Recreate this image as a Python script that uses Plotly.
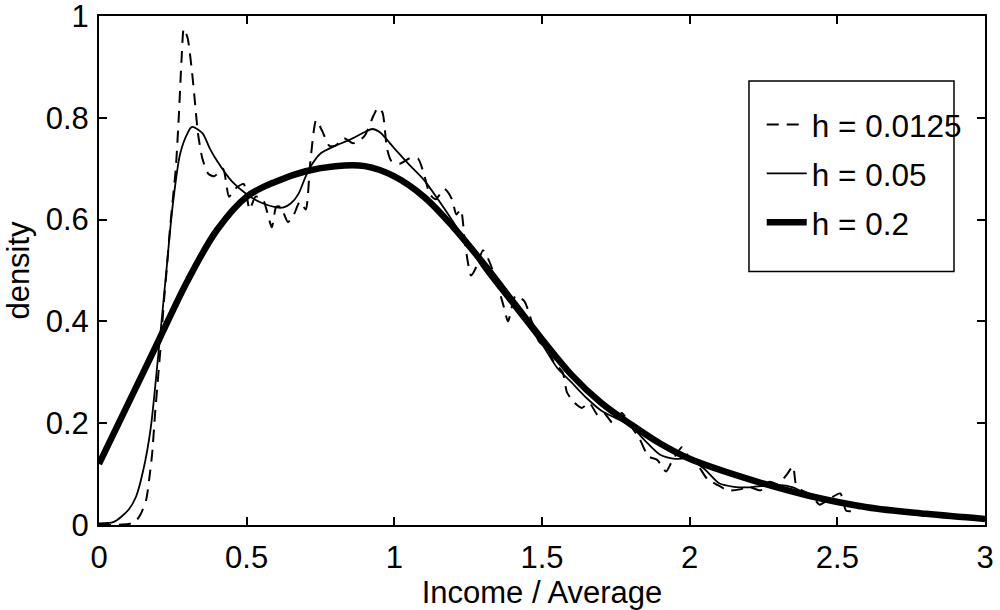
import plotly.graph_objects as go

# Kernel density estimates of income relative to the average, for three bandwidths
x_h0125 = [0.0, 0.05, 0.1, 0.12, 0.14, 0.16, 0.17, 0.18, 0.19, 0.2, 0.21, 0.22, 0.23, 0.24,
           0.25, 0.26, 0.27, 0.28, 0.287, 0.30, 0.315, 0.325, 0.335, 0.35, 0.37, 0.39, 0.42,
           0.44, 0.46, 0.49, 0.51, 0.53, 0.555, 0.585, 0.60, 0.615, 0.64, 0.66, 0.68, 0.70,
           0.715, 0.735, 0.755, 0.78, 0.80, 0.83, 0.86, 0.88, 0.90, 0.93, 0.945, 0.96, 0.975,
           0.99, 1.02, 1.05, 1.08, 1.10, 1.12, 1.14, 1.17, 1.195, 1.21, 1.225, 1.24, 1.26,
           1.28, 1.30, 1.32, 1.345, 1.37, 1.385, 1.41, 1.44, 1.465, 1.49, 1.52, 1.54, 1.57,
           1.585, 1.61, 1.635, 1.66, 1.69, 1.71, 1.74, 1.77, 1.80, 1.83, 1.86, 1.89, 1.92,
           1.94, 1.975, 2.0, 2.03, 2.06, 2.09, 2.13, 2.17, 2.2, 2.24, 2.27, 2.30, 2.33, 2.35,
           2.36, 2.38, 2.41, 2.44, 2.47, 2.51, 2.53, 2.56, 2.59, 2.62, 2.7, 2.8, 2.9, 3.0]
y_h0125 = [0.0, 0.0, 0.002, 0.005, 0.02, 0.05, 0.09, 0.14, 0.22, 0.29, 0.36, 0.44, 0.507, 0.58,
           0.64, 0.70, 0.80, 0.92, 0.975, 0.957, 0.89, 0.83, 0.77, 0.72, 0.69, 0.685, 0.70,
           0.645, 0.66, 0.67, 0.62, 0.645, 0.64, 0.585, 0.625, 0.625, 0.595, 0.61, 0.635, 0.62,
           0.71, 0.795, 0.775, 0.745, 0.745, 0.76, 0.75, 0.755, 0.765, 0.805, 0.82, 0.81, 0.74,
           0.715, 0.71, 0.72, 0.72, 0.69, 0.65, 0.64, 0.66, 0.64, 0.61, 0.62, 0.55, 0.49,
           0.51, 0.54, 0.52, 0.48, 0.43, 0.40, 0.45, 0.44, 0.40, 0.36, 0.345, 0.32, 0.30,
           0.26, 0.24, 0.23, 0.24, 0.215, 0.22, 0.20, 0.22, 0.195, 0.17, 0.135, 0.128, 0.105,
           0.125, 0.153, 0.13, 0.115, 0.09, 0.08, 0.068, 0.07, 0.075, 0.068, 0.085, 0.08, 0.10, 0.115,
           0.08, 0.068, 0.06, 0.04, 0.05, 0.062, 0.028, 0.028, 0.038, 0.034, 0.026, 0.02, 0.015, 0.01]

x_h05 = [0.0, 0.05, 0.1, 0.125, 0.15, 0.175, 0.2, 0.225, 0.25, 0.275, 0.3, 0.315, 0.35, 0.375,
         0.4, 0.45, 0.5, 0.55, 0.6, 0.625, 0.65, 0.675, 0.7, 0.725, 0.75, 0.8, 0.85, 0.9, 0.925,
         0.95, 1.0, 1.05, 1.1, 1.15, 1.2, 1.25, 1.3, 1.4, 1.5, 1.55, 1.6, 1.65, 1.7, 1.75, 1.8,
         1.85, 1.9, 1.95, 2.0, 2.05, 2.1, 2.15, 2.2, 2.25, 2.3, 2.35, 2.4, 2.5, 2.6, 2.7, 2.8,
         2.9, 3.0]
y_h05 = [0.003, 0.006, 0.03, 0.055, 0.108, 0.19, 0.33, 0.48, 0.63, 0.73, 0.77, 0.782, 0.77, 0.74,
         0.715, 0.675, 0.65, 0.633, 0.624, 0.624, 0.632, 0.65, 0.685, 0.712, 0.73, 0.745, 0.757,
         0.772, 0.778, 0.772, 0.74, 0.708, 0.678, 0.638, 0.595, 0.55, 0.505, 0.43, 0.355, 0.31,
         0.28, 0.25, 0.225, 0.21, 0.195, 0.165, 0.138, 0.13, 0.13, 0.11, 0.082, 0.075, 0.074,
         0.077, 0.079, 0.074, 0.06, 0.046, 0.035, 0.027, 0.02, 0.015, 0.01]

x_h2 = [0.0, 0.1, 0.2, 0.3, 0.4, 0.5, 0.6, 0.7, 0.8, 0.9, 1.0, 1.1, 1.2, 1.3, 1.4, 1.5, 1.6,
        1.7, 1.8, 1.9, 2.0, 2.2, 2.4, 2.6, 2.8, 3.0]
y_h2 = [0.12, 0.24, 0.36, 0.48, 0.58, 0.645, 0.675, 0.695, 0.705, 0.705, 0.685, 0.645, 0.585,
        0.515, 0.44, 0.365, 0.295, 0.24, 0.198, 0.16, 0.13, 0.09, 0.058, 0.035, 0.022, 0.012]

legend_labels = ["h = 0.0125", "h = 0.05", "h = 0.2"]

x_tickvals = [0, 0.5, 1, 1.5, 2, 2.5, 3]
x_ticktext = ["0", "0.5", "1", "1.5", "2", "2.5", "3"]
y_tickvals = [0, 0.2, 0.4, 0.6, 0.8, 1]
y_ticktext = ["0", "0.2", "0.4", "0.6", "0.8", "1"]

FONT = "Liberation Sans, Arial, Helvetica, sans-serif"

fig = go.Figure()
fig.add_trace(go.Scatter(x=x_h0125, y=y_h0125, mode="lines", name=legend_labels[0],
                         legendgroup="a",
                         line=dict(color="black", width=2, dash="12px,8px", shape="spline",
                                   smoothing=0.6)))
fig.add_trace(go.Scatter(x=x_h05, y=y_h05, mode="lines", name=legend_labels[1],
                         legendgroup="b",
                         line=dict(color="black", width=1.8, shape="spline", smoothing=0.8)))
fig.add_trace(go.Scatter(x=x_h2, y=y_h2, mode="lines", name=legend_labels[2],
                         legendgroup="c",
                         line=dict(color="black", width=6.5, shape="spline")))

# legend frame
fig.add_shape(type="rect", xref="paper", yref="paper",
              x0=0.7336, x1=0.965, y0=0.498, y1=0.8725,
              line=dict(color="black", width=1.5), fillcolor="white", layer="below")

axis_common = dict(
    showline=True, linecolor="black", linewidth=2, mirror="ticks",
    ticks="inside", ticklen=8, tickwidth=1.5, tickcolor="black",
    showgrid=False, zeroline=False, ticklabeloverflow="allow", automargin=False,
    tickfont=dict(family=FONT, size=31, color="black"),
)

fig.update_layout(
    width=1000, height=610,
    margin=dict(l=99, r=15, t=16, b=85),
    paper_bgcolor="white", plot_bgcolor="rgba(0,0,0,0)",
    font=dict(family=FONT, color="black"),
    xaxis=dict(range=[0, 3], tickvals=x_tickvals, ticktext=x_ticktext,
               ticklabelstandoff=4,
               title=dict(text="Income / Average", font=dict(family=FONT, size=31),
                          standoff=2),
               **axis_common),
    yaxis=dict(range=[0, 1], tickvals=y_tickvals, ticktext=y_ticktext,
               ticklabelstandoff=2,
               title=dict(text="density", font=dict(family=FONT, size=31), standoff=7),
               **axis_common),
    showlegend=True,
    legend=dict(x=0.748, y=0.84, xanchor="left", yanchor="top",
                bgcolor="rgba(0,0,0,0)", borderwidth=0,
                font=dict(family=FONT, size=31.5, color="black"),
                traceorder="grouped", tracegroupgap=5, itemwidth=40),
)

fig.write_html("out.html")
